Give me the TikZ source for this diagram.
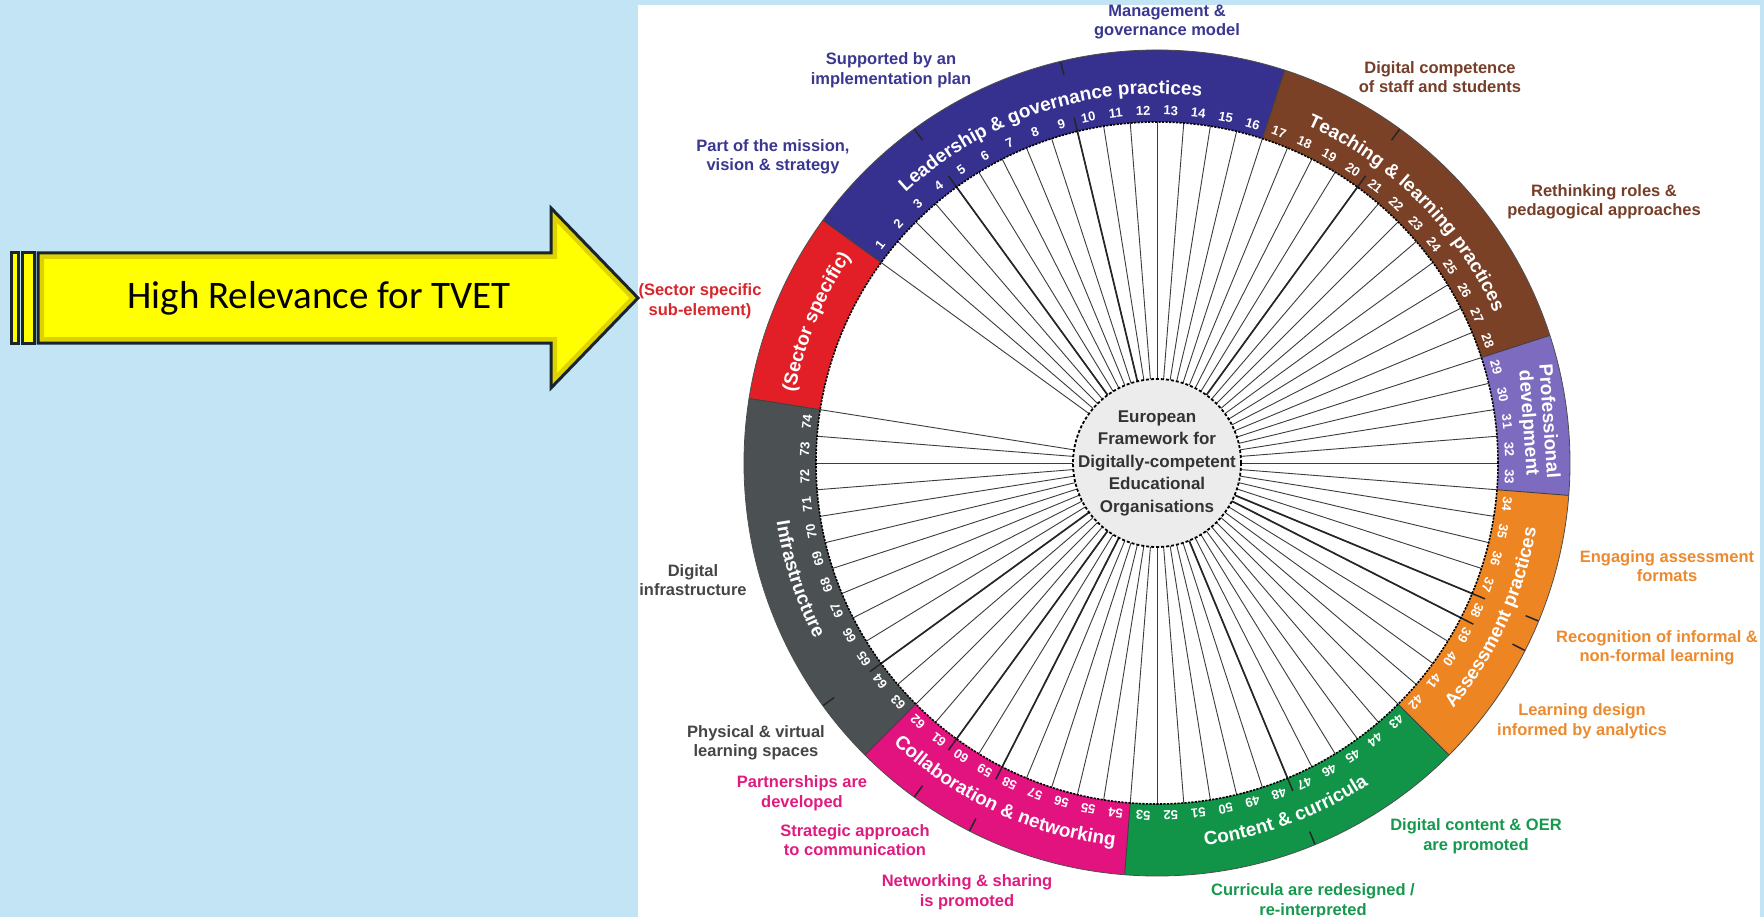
\documentclass[tikz,border=0pt]{standalone}
\usepackage{fontspec}
\setmainfont{Liberation Sans}
\newfontfamily\arrowfont{Carlito}
\usetikzlibrary{decorations.text}
\definecolor{bgblue}{RGB}{194,228,244}
\definecolor{cBlue}{RGB}{54,48,142}
\definecolor{cBrown}{RGB}{122,65,39}
\definecolor{cPurple}{RGB}{124,107,190}
\definecolor{cOrange}{RGB}{238,133,35}
\definecolor{cGreen}{RGB}{17,148,71}
\definecolor{cMagenta}{RGB}{226,19,127}
\definecolor{cGray}{RGB}{75,80,83}
\definecolor{cRed}{RGB}{226,31,38}
\definecolor{tBlue}{RGB}{58,55,144}
\definecolor{tBrown}{RGB}{118,62,40}
\definecolor{tOrange}{RGB}{235,138,46}
\definecolor{tGreen}{RGB}{22,152,78}
\definecolor{tMagenta}{RGB}{223,27,128}
\definecolor{tGray}{RGB}{69,69,69}
\definecolor{tRed}{RGB}{215,38,44}
\definecolor{arrowyellow}{RGB}{255,255,0}
\definecolor{arrowrim}{RGB}{222,210,0}
\definecolor{arrowline}{RGB}{24,36,46}
\definecolor{spokecol}{RGB}{60,60,60}
\definecolor{centerfill}{RGB}{236,236,236}
\definecolor{centertext}{RGB}{51,51,51}
\newcommand\ringseg[3]{\fill[#1] (#2:341) arc[start angle=#2,end angle=#3,radius=341] -- (#3:413) arc[start angle=#3,end angle=#2,radius=413] -- cycle;}
\newcommand\catfont{\fontsize{19}{19}\selectfont\bfseries}
\newcommand\arrowpath{(38,-253) -- (551,-253) -- (551,-208) -- (638,-298) -- (551,-388) -- (551,-343) -- (38,-343) -- cycle}
\begin{document}
\begin{tikzpicture}[x=1pt,y=1pt,
  outlab/.style={font=\fontsize{16.5}{19.5}\selectfont\bfseries, align=center, inner sep=0},
  num/.style={font=\fontsize{13}{13}\selectfont\bfseries, text=white, inner sep=0},
  spoke/.style={draw=spokecol, line width=0.9},
  spokethick/.style={draw=black!85, line width=1.7},
  tickmark/.style={draw=black!85, line width=1.5},
  segline/.style={draw=black!75, line width=0.9},
  arrowpart/.style={fill=arrowyellow, draw=arrowline, line width=3, line join=miter},
]
\useasboundingbox (0,0) rectangle (1764,-917);
\fill[bgblue] (0,0) rectangle (1764,-917);
\fill[white] (638,-5) rectangle (1760,-917);

% ---------- arrow ----------
\draw[arrowpart] (11,-253) rectangle (18,-343);
\draw[arrowpart] (22,-253) rectangle (34,-343);
\fill[arrowyellow] \arrowpath;
\begin{scope}
  \clip \arrowpath;
  \draw[arrowrim, line width=12, line join=miter] \arrowpath;
\end{scope}
\draw[draw=arrowline, line width=3, line join=miter] \arrowpath;
\node[font=\arrowfont\fontsize{39}{44}\selectfont, inner sep=0] (tvet) at (319,-298) {High Relevance for TVET};

% ---------- wheel ----------
\begin{scope}[shift={(1157,-463)}]
\ringseg{cRed}{171}{144}
\ringseg{cBlue}{144}{72}
\ringseg{cBrown}{72}{18}
\ringseg{cPurple}{18}{-4.5}
\ringseg{cOrange}{-4.5}{-45}
\ringseg{cGreen}{-45}{-94.5}
\ringseg{cMagenta}{-94.5}{-135}
\ringseg{cGray}{-135}{-189}

\foreach \k in {0,...,74}{
  \pgfmathsetmacro\ang{144-4.5*\k}
  \draw[spoke] (\ang:84) -- (\ang:341);
}
\foreach \k in {4,9,20,37,38,47,58,60,64}{
  \pgfmathsetmacro\ang{144-4.5*\k}
  \draw[spokethick] (\ang:84) -- (\ang:341);
  \draw[tickmark] (\ang:341) -- (\ang:355);
  \draw[tickmark] (\ang:399) -- (\ang:413);
}
\foreach \a in {144,72,18,-4.5,-45,-94.5,-135,171}{
  \draw[segline] (\a:341) -- (\a:413);
}
\draw[draw=black!70, line width=0.8] (0,0) circle[radius=413];
\draw[black, line width=1.6, dash pattern=on 2.2pt off 1.3pt] (0,0) circle[radius=341];
\fill[centerfill] (0,0) circle[radius=84];
\draw[black, line width=1.8, dash pattern=on 3pt off 2pt] (0,0) circle[radius=84];
\node[align=center, font=\fontsize{17}{22.5}\selectfont\bfseries, text=centertext, inner sep=0] (ctr) at (0,0)
  {European\\Framework for\\Digitally-competent\\Educational\\Organisations};

\foreach \k in {1,...,74}{
  \pgfmathsetmacro\ang{146.25-4.5*\k}
  \pgfmathsetmacro\rot{\ang-90}
  \node[num, rotate=\rot] (n\k) at (\ang:352.5) {\k};
}

% top-style labels (clockwise, tops outward)
\path[decorate, decoration={text along path, text align=center, text color=white,
  text={|\catfont|Leadership {\&} governance practices}}]
  (144:369) arc[start angle=144, end angle=72, radius=369];
\path[decorate, decoration={text along path, text align=center, text color=white,
  text={|\catfont|Teaching {\&} learning practices}}]
  (72:369) arc[start angle=72, end angle=18, radius=369];
\path[decorate, decoration={text along path, text align=center, text color=white,
  text={|\catfont|(Sector specific)}}]
  (171:369) arc[start angle=171, end angle=144, radius=369];
% bottom-style labels (counter-clockwise, tops inward)
\path[decorate, decoration={text along path, text align=center, text color=white,
  text={|\catfont|Assessment practices}}]
  (-45:385) arc[start angle=-45, end angle=-4.5, radius=385];
\path[decorate, decoration={text along path, text align=center, text color=white,
  text={|\catfont|Content {\&} curricula}}]
  (-94.5:385) arc[start angle=-94.5, end angle=-45, radius=385];
\path[decorate, decoration={text along path, text align=center, text color=white,
  text={|\catfont|Collaboration {\&} networking}}]
  (-135:385) arc[start angle=-135, end angle=-94.5, radius=385];
\path[decorate, decoration={text along path, text align=center, text color=white,
  text={|\catfont|Infrastructure}}]
  (171:385) arc[start angle=171, end angle=225, radius=385];
\end{scope}

\node[font=\catfont, text=white, rotate=-86, inner sep=0] (prof1) at (1550,-421) {Professional};
\node[font=\catfont, text=white, rotate=-86, inner sep=0] (prof2) at (1528,-423) {develpment};

% ---------- outer labels ----------
\node[outlab, text=tBlue] (l1) at (1167,-22) {Management \&\\governance model};
\node[outlab, text=tBlue] (l2) at (891,-70) {Supported by an\\implementation plan};
\node[outlab, text=tBlue] (l3) at (773,-157) {Part of the mission,\\vision \& strategy};
\node[outlab, text=tRed] (l4) at (700,-301) {(Sector specific\\sub-element)};
\node[outlab, text=tGray] (l5) at (693,-580) {Digital\\infrastructure};
\node[outlab, text=tGray] (l6) at (756,-743) {Physical \& virtual\\learning spaces};
\node[outlab, text=tMagenta] (l7) at (802,-793) {Partnerships are\\developed};
\node[outlab, text=tMagenta] (l8) at (855,-840) {Strategic approach\\to communication};
\node[outlab, text=tMagenta] (l9) at (967,-892) {Networking \& sharing\\is promoted};
\node[outlab, text=tGreen] (l10) at (1313,-901) {Curricula are redesigned /\\re-interpreted};
\node[outlab, text=tGreen] (l11) at (1476,-836) {Digital content \& OER\\are promoted};
\node[outlab, text=tOrange] (l12) at (1582,-721) {Learning design\\informed by analytics};
\node[outlab, text=tOrange] (l13) at (1657,-648) {Recognition of informal \&\\non-formal learning};
\node[outlab, text=tOrange] (l14) at (1667,-566) {Engaging assessment\\formats};
\node[outlab, text=tBrown] (l15) at (1604,-202) {Rethinking roles \&\\pedagogical approaches};
\node[outlab, text=tBrown] (l16) at (1440,-77) {Digital competence\\of staff and students};
\end{tikzpicture}
\end{document}
